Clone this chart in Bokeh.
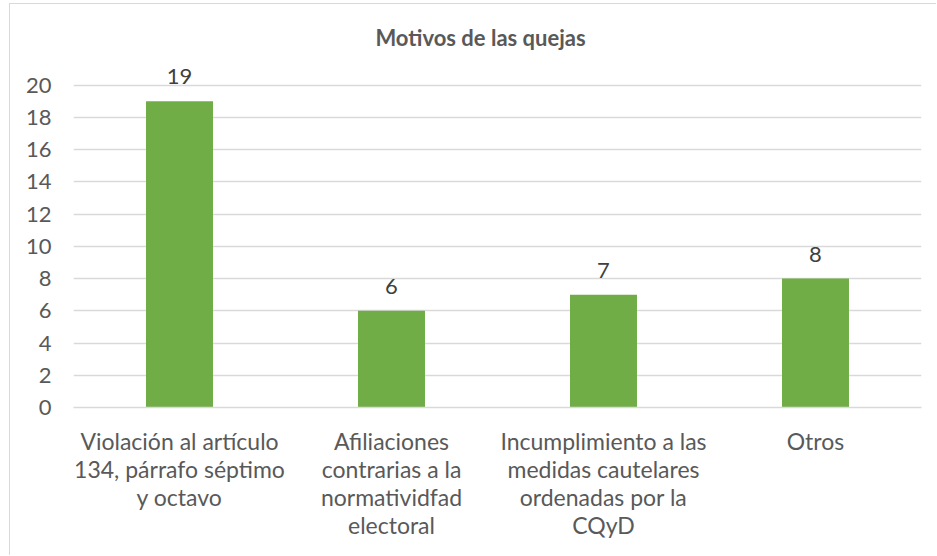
from bokeh.plotting import figure
from bokeh.models import ColumnDataSource, LabelSet, Label, FixedTicker
from bokeh.core.properties import value
from bokeh.embed import file_html
from bokeh.resources import INLINE

categories = [
    "Violación al artículo\n134, párrafo séptimo\ny octavo",
    "Afiliaciones\ncontrarias a la\nnormatividfad\nelectoral",
    "Incumplimiento a las\nmedidas cautelares\nordenadas por la\nCQyD",
    "Otros",
]
values = [19, 6, 7, 8]
y_ticks = [0, 2, 4, 6, 8, 10, 12, 14, 16, 18, 20]
title_text = "Motivos de las quejas"

FONT = "Lato"
TXT = "#595959"
W, H = 927, 552

src = ColumnDataSource(dict(cat=categories, val=values, lab=[str(v) for v in values]))

p = figure(x_range=categories, y_range=(0, 25), width=W, height=H,
           output_backend="svg", toolbar_location=None,
           min_border_left=63, min_border_right=16, min_border_top=0, min_border_bottom=149)

p.vbar(x="cat", top="val", width=0.316, source=src, color="#70AD47", line_color=None)

p.add_layout(LabelSet(x="cat", y="val", text="lab", source=src, y_offset=17,
                      text_align="center", text_baseline="alphabetic",
                      text_font=value(FONT), text_font_size="22px", text_color="#404040"))

p.add_layout(Label(x=1.92, y=22.95, text=title_text,
                   text_align="center", text_baseline="middle", text_font=FONT,
                   text_font_size="22px", text_font_style="bold", text_color=TXT))

p.outline_line_color = None
p.background_fill_color = "white"
p.border_fill_color = "white"
p.xgrid.grid_line_color = None
p.ygrid.grid_line_color = "#D9D9D9"
p.ygrid.grid_line_width = 1.3

p.yaxis.ticker = FixedTicker(ticks=y_ticks)
p.yaxis.axis_line_color = None
p.yaxis.major_tick_line_color = None
p.yaxis.minor_tick_line_color = None
p.yaxis.major_label_text_font = FONT
p.yaxis.major_label_text_font_size = "22px"
p.yaxis.major_label_text_color = TXT
p.yaxis.major_label_standoff = 16

p.xaxis.axis_line_color = "#D9D9D9"
p.xaxis.axis_line_width = 1.3
p.xaxis.major_tick_line_color = None
p.xaxis.minor_tick_line_color = None
p.xaxis.major_label_text_font = FONT
p.xaxis.major_label_text_font_size = "23px"
p.xaxis.major_label_text_color = TXT
p.xaxis.major_label_standoff = 13
p.xaxis.major_label_text_line_height = 1.0
p.x_range.range_padding = 0

p.styles = {"margin-left": "9px", "margin-top": "3px",
            "border-left": "1px solid #D9D9D9", "border-top": "1px solid #D9D9D9"}

open("out.html", "w").write(file_html(p, INLINE))
